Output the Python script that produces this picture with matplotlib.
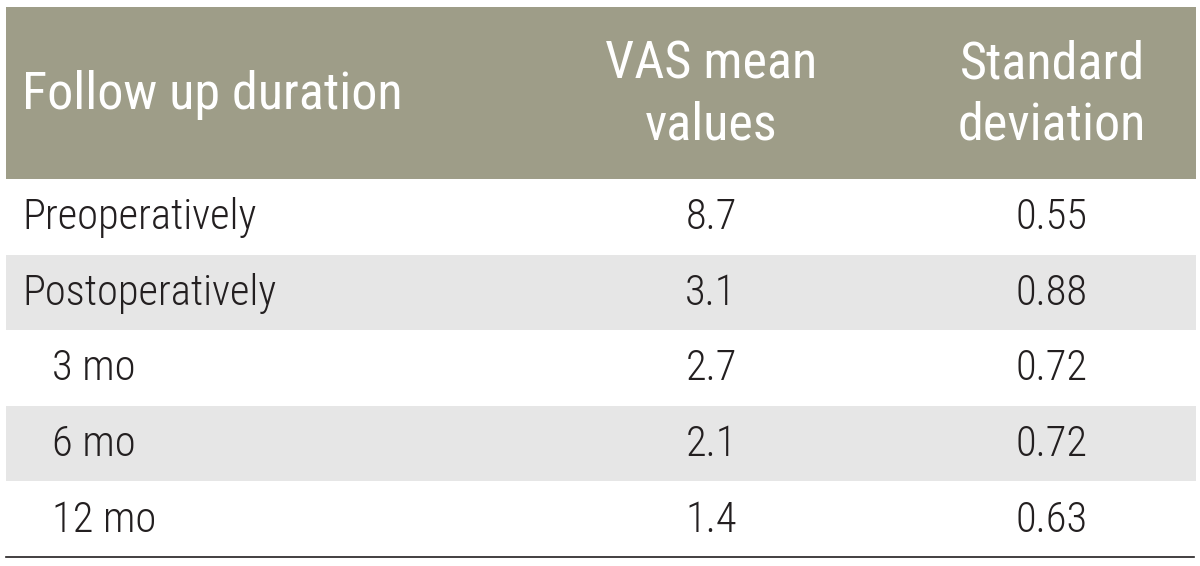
import matplotlib.pyplot as plt
from matplotlib.patches import Rectangle

# table contents
follow_up = ['Preoperatively', 'Postoperatively', '3 mo', '6 mo', '12 mo']
indented = [False, False, True, True, True]
vas_mean = ['8.7', '3.1', '2.7', '2.1', '1.4']
std_dev = ['0.55', '0.88', '0.72', '0.72', '0.63']
headers = ['Follow up duration', 'VAS mean\nvalues', 'Standard\ndeviation']

plt.rcParams['font.family'] = ['Roboto Condensed', 'DejaVu Sans']

W, H = 1200, 566
fig = plt.figure(figsize=(W / 100, H / 100), dpi=100)
ax = fig.add_axes([0, 0, 1, 1])
ax.set_xlim(0, W)
ax.set_ylim(H, 0)
ax.axis('off')

left, right = 6, 1196
head_top, head_bot = 7, 179
row_h = 75.6
col1_x, indent_x = 22, 52
col2_x, col3_x = 711, 1052
txt_col = '#231f20'

ax.add_patch(Rectangle((left, head_top), right - left, head_bot - head_top,
                       color='#9e9d88', lw=0))
hy = (head_top + head_bot) / 2 + 2
ax.text(col1_x, hy, headers[0], color='white', fontsize=37.5, va='center', ha='left')
ax.text(col2_x, hy, headers[1], color='white', fontsize=37.5, va='center', ha='center',
        linespacing=1.3)
ax.text(col3_x, hy, headers[2], color='white', fontsize=37.5, va='center', ha='center',
        linespacing=1.3)

for i, name in enumerate(follow_up):
    top = head_bot + i * row_h
    if i % 2 == 1:
        ax.add_patch(Rectangle((left, top), right - left, row_h, color='#e6e6e6', lw=0))
    cy = top + row_h / 2 + 1
    x = indent_x if indented[i] else col1_x
    ax.text(x, cy, name, color=txt_col, fontsize=30.6, fontweight='light',
            va='center', ha='left')
    ax.text(col2_x, cy, vas_mean[i], color=txt_col, fontsize=30.6, fontweight='light',
            va='center', ha='center')
    ax.text(col3_x, cy, std_dev[i], color=txt_col, fontsize=30.6, fontweight='light',
            va='center', ha='center')

bottom = head_bot + len(follow_up) * row_h
ax.plot([left, right - 2], [bottom, bottom], color=txt_col, lw=1.2)

fig.savefig('out.png', dpi=100)
